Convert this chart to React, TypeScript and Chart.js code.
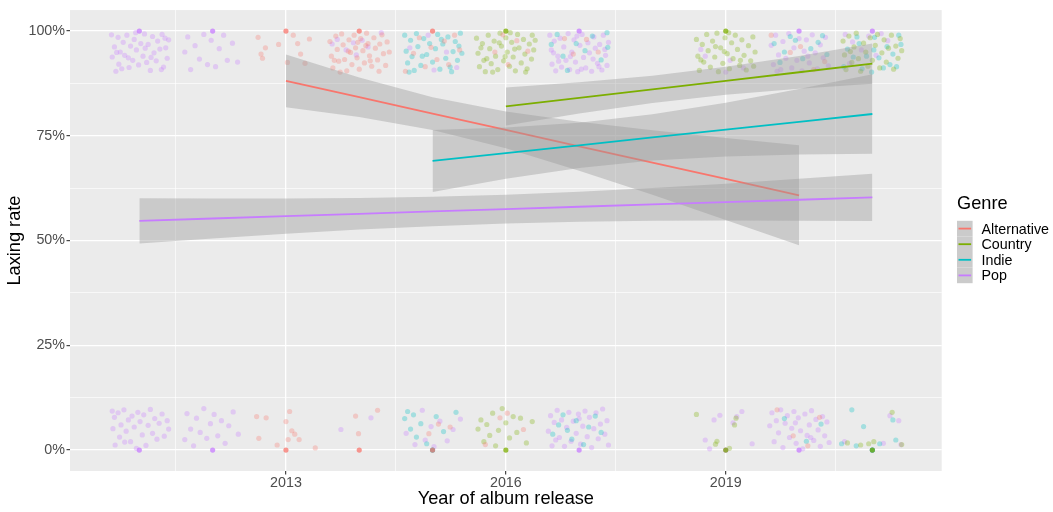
import React, { useEffect, useRef } from 'react';
import { Chart, registerables } from 'chart.js';
Chart.register(...registerables);

const FONT = '"Liberation Sans", Arial, sans-serif';

const genres = ['Alternative', 'Country', 'Indie', 'Pop'];
const genreColors = ['#F8766D', '#7CAE00', '#00BFC4', '#C77CFF'];
const genreRGB = ['248,118,109', '124,174,0', '0,191,196', '199,124,255'];

const xMajorTicks = [2013, 2016, 2019];
const xMinorTicks = [2011.5, 2014.5, 2017.5, 2020.5];
const yMajorTicks = [0, 25, 50, 75, 100];
const yMinorTicks = [12.5, 37.5, 62.5, 87.5];
const yTickLabels = ['0%', '25%', '50%', '75%', '100%'];

// fitted trend lines and confidence bands (percent)
const altYears = [2013, 2014, 2015, 2016, 2017, 2018, 2019, 2020];
const altFit = [88.1, 84.2, 80.3, 76.4, 72.5, 68.6, 64.7, 60.8];
const altUpper = [94.4, 88.9, 84.2, 80.8, 78.35, 76.3, 74.5, 72.75];
const altLower = [81.8, 79.5, 76.4, 72.0, 66.65, 60.9, 54.9, 48.85];

const countryYears = [2016, 2017, 2018, 2019, 2020, 2021];
const countryFit = [82.0, 84.04, 86.08, 88.12, 90.16, 92.2];
const countryUpper = [86.55, 87.76, 89.35, 91.46, 94.07, 97.0];
const countryLower = [77.45, 80.32, 82.81, 84.78, 86.25, 87.4];

const indieYears = [2015, 2016, 2017, 2018, 2019, 2020, 2021];
const indieFit = [69.0, 70.87, 72.73, 74.6, 76.47, 78.33, 80.2];
const indieUpper = [76.4, 76.98, 78.14, 80.12, 82.87, 86.14, 89.7];
const indieLower = [61.6, 64.76, 67.32, 69.08, 70.07, 70.52, 70.7];

const popYears = [2011, 2012, 2013, 2014, 2015, 2016, 2017, 2018, 2019, 2020, 2021];
const popFit = [54.7, 55.26, 55.82, 56.38, 56.94, 57.5, 58.06, 58.62, 59.18, 59.74, 60.3];
const popUpper = [60.1, 60.03, 60.03, 60.15, 60.44, 60.93, 61.64, 62.54, 63.58, 64.73, 65.95];
const popLower = [49.3, 50.49, 51.61, 52.61, 53.44, 54.07, 54.48, 54.7, 54.78, 54.75, 54.65];

// jittered album points [year, laxing rate %]
const altPoints = [
  [2012.62,98.5],[2012.66,94.5],[2012.68,93.5],[2012.72,96.0],[2013.02,92.5],[2013.10,99.0],[2013.16,97.0],[2013.20,94.5],[2013.26,92.3],[2013.32,98.1],[2012.90,96.8],
  [2012.60,8.0],[2012.73,7.7],[2012.63,2.8],[2012.88,1.2],[2013.00,6.8],[2013.03,2.5],[2013.08,4.6],[2013.12,3.8],[2013.05,9.2],[2013.18,2.5],[2013.40,0.5],
  [2013.60,97.5],[2013.62,94.0],[2013.64,91.2],[2013.68,98.8],[2013.70,95.6],[2013.72,92.8],[2013.76,99.3],[2013.78,96.7],[2013.80,93.2],[2013.83,90.5],
  [2013.86,97.9],[2013.88,94.9],[2013.90,92.0],[2013.93,99.0],[2013.95,96.0],[2013.97,93.6],[2014.00,90.9],[2014.02,98.2],[2014.05,95.3],[2014.07,92.4],
  [2014.10,99.5],[2014.12,97.0],[2014.14,94.1],[2014.17,91.6],[2014.20,98.4],[2014.22,95.9],[2014.25,93.1],[2014.28,96.9],[2014.31,99.1],[2014.33,94.6],
  [2014.36,91.8],[2014.38,97.4],[2014.41,95.0],[2013.66,93.0],[2013.85,95.2],[2014.09,96.5],[2014.27,90.4],[2013.98,97.3],[2014.15,92.9],[2013.74,90.2],
  [2013.95,8.1],[2013.99,3.9],[2014.25,9.5],
  [2014.63,90.4],[2014.74,94.7],[2014.82,98.4],[2014.90,91.5],[2014.98,96.1],[2015.06,93.2],[2015.16,97.6],[2015.22,92.0],[2015.30,99.0],[2015.37,95.5],
  [2014.95,3.9],[2015.08,6.2],[2015.24,5.5],
  [2015.85,95.0],[2016.03,92.0],[2016.15,97.7],[2016.30,95.2],[2015.96,99.1],
  [2015.72,1.3],[2015.92,7.7],[2016.02,8.8],[2016.24,4.9],
  [2016.80,98.2],[2016.92,94.5],[2017.10,98.0],[2017.26,95.0],
  [2019.62,99.0],[2019.88,94.9],[2020.02,96.3],[2020.20,90.8],[2020.35,92.7],
  [2019.70,9.6],[2019.92,3.4],[2020.12,1.0],[2020.28,7.8],
];

const countryPoints = [
  [2015.60,98.3],[2015.62,94.7],[2015.64,91.5],[2015.68,97.0],[2015.70,93.0],[2015.72,90.3],[2015.76,99.0],[2015.78,95.8],[2015.80,92.2],[2015.84,97.6],
  [2015.86,94.0],[2015.89,90.8],[2015.92,99.5],[2015.94,96.4],[2015.97,92.9],[2016.00,98.4],[2016.02,95.0],[2016.05,91.6],[2016.08,97.3],[2016.10,93.8],
  [2016.13,90.5],[2016.16,99.2],[2016.18,96.0],[2016.21,92.4],[2016.24,98.0],[2016.26,94.5],[2016.29,91.0],[2016.32,96.9],[2016.35,93.3],[2016.38,95.5],
  [2016.40,97.8],[2015.66,96.0],[2015.82,90.2],[2015.99,93.9],[2016.12,95.7],[2016.27,90.2],[2016.36,99.0],[2015.74,93.4],[2015.91,97.2],[2016.06,99.6],
  [2015.62,5.0],[2015.66,7.2],[2015.70,2.0],[2015.74,6.1],[2015.78,3.5],[2015.82,8.8],[2015.86,1.0],[2015.90,4.7],[2015.95,9.9],[2016.00,6.5],
  [2016.05,2.9],[2016.10,8.0],[2016.15,4.2],[2016.20,7.6],[2016.28,1.7],[2016.36,6.8],
  [2018.60,98.0],[2018.62,94.0],[2018.64,90.6],[2018.68,96.8],[2018.70,92.6],[2018.74,99.2],[2018.76,95.3],[2018.79,91.4],[2018.82,97.6],[2018.85,93.8],
  [2018.88,99.5],[2018.90,90.3],[2018.93,96.0],[2018.96,92.3],[2018.99,98.4],[2019.02,94.6],[2019.05,91.0],[2019.08,97.2],[2019.10,93.4],[2019.13,99.0],
  [2019.16,95.6],[2019.19,91.8],[2019.22,97.9],[2019.25,94.2],[2019.28,90.7],[2019.31,96.5],[2019.34,92.9],[2019.37,98.6],[2019.40,95.0],[2018.66,93.1],
  [2018.86,96.3],[2019.04,99.6],[2019.20,93.0],[2019.38,91.6],[2018.98,95.1],
  [2018.60,8.5],[2018.86,1.4],[2018.88,2.1],[2019.12,6.0],[2019.14,7.6],[2019.05,0.4],
  [2020.60,97.6],[2020.62,94.3],[2020.64,90.8],[2020.68,98.8],[2020.72,92.5],[2020.75,96.2],[2020.78,99.5],[2020.81,93.4],[2020.84,90.4],[2020.88,97.1],
  [2020.91,95.0],[2020.94,91.6],[2020.97,98.4],[2021.00,93.0],[2021.04,96.6],[2021.07,99.2],[2021.10,91.2],[2021.13,94.8],[2021.16,97.9],[2021.19,92.6],
  [2021.22,95.9],[2021.26,99.0],[2021.29,90.9],[2021.32,96.4],[2021.35,93.5],[2021.38,98.2],[2021.40,95.3],[2020.70,95.1],
  [2020.66,1.7],[2020.84,1.2],[2020.95,1.5],[2021.02,2.0],[2021.27,9.0],[2021.40,1.3],
];

const indiePoints = [
  [2014.62,99.0],[2014.64,95.2],[2014.66,92.4],[2014.70,97.8],[2014.72,93.9],[2014.75,90.6],[2014.78,99.4],[2014.80,96.3],[2014.84,91.8],[2014.88,98.2],
  [2014.92,94.4],[2014.96,97.0],[2015.00,92.6],[2015.04,95.8],[2015.07,99.2],[2015.10,90.9],[2015.14,96.9],[2015.18,93.5],[2015.21,98.6],[2015.24,91.4],
  [2015.28,95.1],[2015.31,97.5],[2015.34,93.0],[2015.38,99.5],[2015.40,94.7],[2014.68,90.2],[2015.12,98.0],[2014.86,94.0],[2015.26,90.3],[2015.36,96.4],
  [2014.62,7.5],[2014.66,9.2],[2014.70,5.0],[2014.74,8.4],[2014.78,3.1],[2014.84,6.3],[2014.92,1.5],[2015.05,8.0],[2015.15,4.4],[2015.32,9.0],
  [2016.62,96.8],[2016.70,99.2],[2016.78,94.0],[2016.84,90.6],[2016.96,97.0],[2017.08,95.3],[2017.18,98.8],[2017.30,93.1],[2017.38,99.6],[2017.39,96.1],
  [2016.64,3.8],[2016.72,6.0],[2016.78,8.4],[2016.84,4.7],[2016.90,2.6],[2016.96,7.0],[2017.06,1.3],[2017.13,5.5],[2017.22,8.1],[2017.30,4.2],
  [2019.66,97.0],[2019.74,92.5],[2019.80,95.0],[2019.95,97.8],[2020.05,93.4],[2020.16,95.8],[2020.26,97.3],[2020.32,98.9],[2020.38,94.4],[2019.88,98.7],
  [2019.80,7.5],[2020.10,2.1],[2020.30,6.2],
  [2020.61,91.5],[2020.66,95.7],[2020.74,93.8],[2020.82,97.0],[2020.86,91.0],[2020.92,94.0],[2020.99,90.2],[2021.03,98.5],[2021.09,93.6],[2021.15,91.2],
  [2021.20,96.3],[2021.24,92.0],[2021.28,94.5],[2021.33,91.5],[2021.36,99.0],[2021.39,96.8],[2021.02,95.5],[2020.79,98.6],
  [2020.58,1.5],[2020.72,9.6],[2020.78,1.0],[2020.88,5.6],[2021.10,1.5],[2021.28,7.2],[2021.32,2.4],
];

const popPoints = [
  [2010.62,99.1],[2010.66,96.2],[2010.63,93.8],[2010.68,90.4],[2010.71,98.5],[2010.74,95.0],[2010.72,92.1],[2010.78,97.3],[2010.80,94.2],[2010.83,99.0],
  [2010.86,91.3],[2010.88,96.4],[2010.91,93.0],[2010.93,98.0],[2010.96,95.5],[2010.99,91.9],[2011.02,97.0],[2011.05,94.0],[2011.07,99.3],[2011.10,92.5],
  [2011.12,96.8],[2011.15,90.6],[2011.18,98.7],[2011.20,94.8],[2011.23,92.9],[2011.25,97.6],[2011.28,95.7],[2011.31,99.2],[2011.33,91.4],[2011.36,96.0],
  [2011.38,93.5],[2011.40,97.9],[2010.76,91.0],[2010.95,99.6],[2011.16,93.7],[2011.30,90.8],[2010.69,94.9],[2011.08,95.9],[2010.85,93.6],[2011.35,98.3],
  [2010.63,9.3],[2010.66,7.8],[2010.64,5.1],[2010.67,1.2],[2010.71,8.9],[2010.75,6.0],[2010.73,3.1],[2010.79,9.6],[2010.82,4.5],[2010.85,7.2],
  [2010.88,2.0],[2010.90,8.1],[2010.93,5.5],[2010.96,0.4],[2010.98,9.0],[2011.01,6.8],[2011.04,3.6],[2011.06,8.4],[2011.09,1.1],[2011.12,5.9],
  [2011.15,9.7],[2011.18,4.0],[2011.21,7.5],[2011.24,2.6],[2011.27,6.4],[2011.31,8.6],[2011.34,3.3],[2011.38,7.0],[2011.40,5.0],[2010.80,1.9],
  [2011.62,95.0],[2011.66,98.6],[2011.70,90.8],[2011.76,96.5],[2011.82,93.3],[2011.88,99.2],[2011.93,92.0],[2011.98,97.8],[2012.04,91.5],[2012.09,95.8],
  [2012.15,99.0],[2012.20,93.0],[2012.27,97.1],[2012.34,92.6],
  [2011.62,2.5],[2011.65,8.7],[2011.70,5.0],[2011.74,1.0],[2011.78,7.6],[2011.83,4.2],[2011.88,9.9],[2011.92,2.8],[2011.97,6.3],[2012.02,8.5],
  [2012.07,3.4],[2012.12,7.0],[2012.17,1.6],[2012.22,5.8],[2012.28,9.1],[2012.35,3.8],
  [2013.63,96.9],[2013.70,98.0],[2013.82,95.5],[2013.92,97.2],[2013.96,94.3],[2014.04,97.8],[2014.12,96.2],[2014.30,99.6],
  [2013.75,4.9],[2014.16,7.7],
  [2014.69,96.0],[2014.94,99.0],[2015.02,90.7],[2015.19,95.0],[2015.33,91.3],
  [2014.64,4.0],[2014.76,1.3],[2014.86,9.5],[2014.90,2.4],[2014.98,5.6],[2015.02,0.8],[2015.10,6.9],[2015.20,2.2],[2015.28,4.9],[2015.38,7.4],
  [2016.60,99.0],[2016.62,95.5],[2016.63,92.1],[2016.66,97.6],[2016.68,90.5],[2016.71,94.0],[2016.74,98.3],[2016.76,91.4],[2016.79,96.2],[2016.82,93.0],
  [2016.85,99.4],[2016.87,90.8],[2016.90,95.0],[2016.93,97.9],[2016.95,92.6],[2016.98,90.3],[2017.01,96.6],[2017.04,99.2],[2017.06,93.7],[2017.09,91.2],
  [2017.12,97.2],[2017.14,94.8],[2017.17,90.4],[2017.20,98.6],[2017.22,95.9],[2017.25,92.3],[2017.28,96.8],[2017.31,90.7],[2017.33,99.0],[2017.36,94.2],
  [2017.38,91.8],[2017.40,97.3],[2016.72,92.8],[2016.88,93.9],[2017.03,90.9],[2017.19,93.3],[2017.35,95.6],[2016.65,94.8],[2016.97,98.8],[2017.27,91.5],
  [2016.58,4.5],[2016.61,8.2],[2016.63,1.0],[2016.66,6.6],[2016.70,9.5],[2016.73,3.0],[2016.76,7.2],[2016.80,0.9],[2016.83,5.4],[2016.86,9.0],
  [2016.89,2.1],[2016.92,6.9],[2016.96,4.0],[2016.99,8.6],[2017.02,1.4],[2017.05,5.7],[2017.08,9.3],[2017.11,3.2],[2017.14,7.8],[2017.17,0.6],
  [2017.20,5.1],[2017.23,8.9],[2017.26,2.7],[2017.29,6.2],[2017.32,9.8],[2017.35,3.8],[2017.38,7.0],[2017.40,1.2],[2016.68,2.4],[2017.00,7.5],
  [2018.66,95.6],[2018.72,94.0],[2019.00,90.2],[2019.06,93.0],[2019.24,91.2],
  [2018.72,2.4],[2018.78,0.3],[2018.84,7.2],[2018.92,8.3],[2019.10,6.5],[2019.15,8.0],[2019.22,9.2],[2019.36,1.5],
  [2019.62,96.6],[2019.65,92.0],[2019.68,99.0],[2019.72,94.3],[2019.75,90.8],[2019.78,97.5],[2019.82,93.5],[2019.86,99.4],[2019.90,91.2],[2019.93,96.0],
  [2019.97,93.0],[2020.00,98.2],[2020.04,90.5],[2020.07,95.2],[2020.10,97.9],[2020.14,92.4],[2020.18,99.1],[2020.22,94.8],[2020.25,91.0],[2020.29,96.7],
  [2020.33,93.6],[2020.36,98.5],[2020.40,91.7],[2019.70,90.4],[2020.12,94.0],
  [2019.60,5.8],[2019.63,8.9],[2019.66,2.0],[2019.69,7.0],[2019.72,4.1],[2019.75,9.6],[2019.78,0.6],[2019.81,6.4],[2019.84,8.2],[2019.87,3.0],
  [2019.90,5.2],[2019.93,9.2],[2019.96,1.6],[2019.99,7.7],[2020.02,4.6],[2020.05,0.3],[2020.08,8.6],[2020.11,3.5],[2020.14,6.0],[2020.17,9.4],
  [2020.20,2.3],[2020.23,7.3],[2020.26,4.8],[2020.29,0.9],[2020.32,8.0],[2020.35,3.4],[2020.38,6.7],[2020.41,1.8],[2019.95,6.5],[2020.16,3.0],
  [2020.63,99.2],[2020.73,97.4],[2020.85,95.5],[2020.95,98.8],[2021.05,94.2],[2021.12,99.4],[2021.21,97.7],[2020.69,92.3],
  [2020.62,2.0],[2021.15,1.6],[2021.24,8.2],[2021.36,7.0],[2021.39,1.3],
];

// unjittered, overlapping points at exact 0% / 100%
const altExact = [[2013,100],[2014,100],[2015,100],[2013,0],[2014,0],[2015,0]];
const countryExact = [[2016,100],[2019,100],[2016,0],[2019,0],[2021,0]];
const indieExact = [[2015,0],[2021,0]];
const popExact = [[2011,100],[2012,100],[2017,100],[2020,100],[2021,100],[2011,0],[2012,0],[2017,0],[2019,0],[2020,0],[2021,0]];

const pointSets = [altPoints, countryPoints, indiePoints, popPoints];
const exactSets = [altExact, countryExact, indieExact, popExact];
const fitSets = [
  [altYears, altFit, altUpper, altLower],
  [countryYears, countryFit, countryUpper, countryLower],
  [indieYears, indieFit, indieUpper, indieLower],
  [popYears, popFit, popUpper, popLower],
];

const toXY = (arr: number[][]) => arr.map(([x, y]) => ({ x, y }));
const zipXY = (xs: number[], ys: number[]) => xs.map((x, i) => ({ x, y: ys[i] }));

const plotPlugin = {
  id: 'ggPanel',
  beforeDraw(chart: any) {
    const { ctx, chartArea: a } = chart;
    ctx.save();
    ctx.fillStyle = '#EBEBEB';
    ctx.fillRect(a.left, a.top, a.right - a.left, a.bottom - a.top);
    ctx.restore();
  },
  afterDraw(chart: any) {
    const { ctx } = chart;
    ctx.save();
    ctx.fillStyle = '#000';
    ctx.font = `18.2px ${FONT}`;
    ctx.textAlign = 'left';
    ctx.textBaseline = 'alphabetic';
    ctx.fillText('Genre', 957, 209);
    const keyX = 957, keyTop = 220.8, keySize = 15.6;
    genres.forEach((g, i) => {
      const top = keyTop + i * keySize;
      ctx.fillStyle = '#CBCBCB';
      ctx.fillRect(keyX, top, keySize, keySize);
      ctx.strokeStyle = genreColors[i];
      ctx.lineWidth = 1.8;
      ctx.beginPath();
      ctx.moveTo(keyX + 1.5, top + keySize / 2);
      ctx.lineTo(keyX + keySize - 1.5, top + keySize / 2);
      ctx.stroke();
      ctx.fillStyle = '#000';
      ctx.font = `14.3px ${FONT}`;
      ctx.textBaseline = 'middle';
      ctx.fillText(g, 981.5, top + keySize / 2 + 1);
    });
    ctx.restore();
  },
};

export default function App() {
  const ref = useRef<HTMLCanvasElement>(null);
  useEffect(() => {
    document.body.style.margin = '0';
    document.body.style.overflow = 'hidden';
    const datasets: any[] = [];
    pointSets.forEach((pts, i) => {
      datasets.push({
        type: 'scatter', label: genres[i] + ' points', data: toXY(pts),
        backgroundColor: `rgba(${genreRGB[i]},0.3)`, borderWidth: 0, pointRadius: 2.6,
        pointHoverRadius: 2.6, order: 100,
      });
      datasets.push({
        type: 'scatter', label: genres[i] + ' exact', data: toXY(exactSets[i]),
        backgroundColor: `rgba(${genreRGB[i]},0.75)`, borderWidth: 0, pointRadius: 2.6,
        order: 99,
      });
    });
    fitSets.forEach(([years, fit, up, lo], i) => {
      const ord = 9 - i * 2;
      datasets.push({
        type: 'line', label: genres[i] + ' upper', data: zipXY(years, up), fill: '+1',
        backgroundColor: 'rgba(153,153,153,0.4)', borderColor: 'transparent', borderWidth: 0,
        pointRadius: 0, tension: 0, order: ord,
      });
      datasets.push({
        type: 'line', label: genres[i] + ' lower', data: zipXY(years, lo), fill: false,
        borderColor: 'transparent', borderWidth: 0, pointRadius: 0, tension: 0, order: ord,
      });
      datasets.push({
        type: 'line', label: genres[i], data: zipXY(years, fit), fill: false,
        borderColor: genreColors[i], borderWidth: 1.8, pointRadius: 0, tension: 0, order: ord - 1,
      });
    });

    const chart = new Chart(ref.current!, {
      type: 'scatter',
      data: { datasets },
      plugins: [plotPlugin],
      options: {
        animation: false,
        responsive: false,
        events: [],
        layout: { padding: { left: 0, right: 111.3, top: 7, bottom: 0 } },
        plugins: { legend: { display: false }, tooltip: { enabled: false } },
        scales: {
          x: {
            type: 'linear', min: 2010.054, max: 2021.946,
            afterBuildTicks: (s: any) => {
              s.ticks = [...xMajorTicks, ...xMinorTicks].sort((a, b) => a - b).map((v) => ({ value: v }));
            },
            afterFit: (s: any) => { s.height = 41; },
            border: { display: false },
            grid: {
              color: '#FFFFFF',
              lineWidth: (c: any) => (xMajorTicks.includes(c.tick?.value) ? 1.3 : 0.65),
              tickColor: (c: any) => (xMajorTicks.includes(c.tick?.value) ? '#333333' : 'rgba(0,0,0,0)'),
              tickLength: 3.5,
              tickWidth: 1.1,
            },
            ticks: {
              autoSkip: false, maxRotation: 0, padding: 1.2, color: '#4D4D4D',
              font: { family: FONT, size: 14.3, lineHeight: 1 },
              callback: (v: any) => (xMajorTicks.includes(v) ? String(v) : ''),
            },
            title: {
              display: true, text: 'Year of album release', color: '#000',
              font: { family: FONT, size: 18.2 }, padding: { top: 0, bottom: 2 },
            },
          },
          y: {
            type: 'linear', min: -5, max: 105,
            afterBuildTicks: (s: any) => {
              s.ticks = [...yMajorTicks, ...yMinorTicks].sort((a, b) => a - b).map((v) => ({ value: v }));
            },
            afterFit: (s: any) => { s.width = 70; },
            border: { display: false },
            grid: {
              color: '#FFFFFF',
              lineWidth: (c: any) => (yMajorTicks.includes(c.tick?.value) ? 1.3 : 0.65),
              tickColor: (c: any) => (yMajorTicks.includes(c.tick?.value) ? '#333333' : 'rgba(0,0,0,0)'),
              tickLength: 3.5,
              tickWidth: 1.1,
            },
            ticks: {
              autoSkip: false, padding: 1.5, color: '#4D4D4D',
              font: { family: FONT, size: 14.3 },
              callback: (v: any) => {
                const i = yMajorTicks.indexOf(v);
                return i >= 0 ? yTickLabels[i] : '';
              },
            },
            title: {
              display: true, text: 'Laxing rate', color: '#000',
              font: { family: FONT, size: 18.2 }, padding: { top: 4.5, bottom: 0 },
            },
          },
        },
      } as any,
    });
    return () => chart.destroy();
  }, []);
  return (
    <div style={{ width: 1053, height: 512 }}>
      <canvas ref={ref} width={1053} height={512} style={{ display: 'block', width: 1053, height: 512 }} />
    </div>
  );
}
